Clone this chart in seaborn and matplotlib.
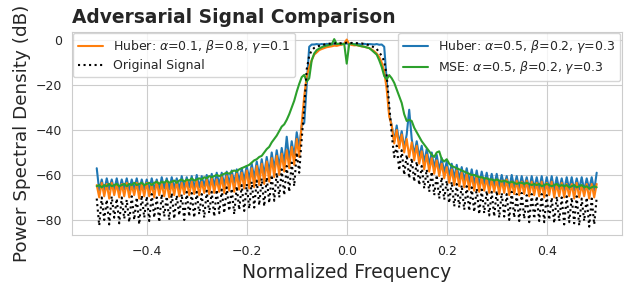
import numpy as np
import pandas as pd
import seaborn as sns
import matplotlib.pyplot as plt

# normalized frequency grid, -0.5 .. 0.5 in steps of 0.005
freq = np.round(np.linspace(-0.5, 0.5, 201), 3)

# PSD values (dB), rows of 10 points (0.05 each)
original = [
    -70.5, -82.5, -70, -80, -71, -82, -69.5, -79, -70.5, -81.5,
    -70, -79.5, -71, -81, -69.5, -80, -70, -82, -69, -79,
    -69.5, -80.5, -68.5, -79, -70, -81, -68.5, -78.5, -69.5, -80,
    -68, -79.5, -69, -78, -68.5, -80, -67.5, -78.5, -68, -79,
    -67.5, -77.5, -68.5, -79, -67, -77, -67.5, -78.5, -66.5, -77,
    -66.5, -77, -65.5, -76, -66, -77.5, -65, -75.5, -64.5, -76,
    -64, -75, -63, -74.5, -62.5, -73.5, -61.5, -74, -61, -72.5,
    -60, -71.5, -59, -70, -57.5, -69, -56, -67.5, -54.5, -65,
    -50, -59, -44, -30, -13, -7, -4.5, -3.5, -3, -2.6,
    -2.3, -2, -1.8, -1.6, -1.7, -1.5, -1.4, -1.6, -1.3, -1.4,
    -1.2, -1.4, -1.3, -1.5, -1.4, -1.6, -1.5, -1.8, -2, -2.3,
    -2.8, -3.3, -4, -5.5, -7, -9.5, -16, -29, -42, -52,
    -47, -58, -49, -60, -51, -61.5, -52.5, -63, -54, -64.5,
    -56, -66, -57.5, -67.5, -58.5, -69, -60, -70.5, -61, -71,
    -62.5, -72.5, -63, -74, -64, -74.5, -64.5, -75.5, -65, -76,
    -65.5, -76.5, -66, -77.5, -66.5, -77, -67, -78, -67.5, -78.5,
    -67, -79, -68, -78.5, -68.5, -80, -67.5, -79, -68.5, -80.5,
    -68, -79.5, -69, -81, -68.5, -79.5, -69.5, -80.5, -68.5, -81,
    -69, -80, -70, -81.5, -69.5, -80.5, -70, -82, -69.5, -81,
    -70, -81.5, -69.5, -82.5, -70.5, -80.5, -70, -83, -70.5, -82,
    -70,
]

huber_a01 = [
    -64.5, -70, -63.5, -69.5, -64, -70.5, -63.5, -69, -64, -70,
    -64, -69.5, -63.5, -70, -64.5, -69, -63.5, -70.5, -64, -69.5,
    -63.5, -69.5, -64, -70, -63, -69, -64, -69.5, -63.5, -70,
    -63.5, -69, -63, -69.5, -63.5, -68.5, -62.5, -69, -63, -68.5,
    -62.5, -69, -63, -68, -62, -68.5, -61.5, -68, -62, -67.5,
    -61, -68, -60.5, -67, -60, -67.5, -59.5, -66.5, -59, -66,
    -58, -66, -57, -65.5, -56, -64.5, -55, -64, -54, -63,
    -52.5, -61, -51.5, -60, -50.5, -58.5, -49, -57, -47.5, -55.5,
    -44, -52, -37, -25, -16, -12, -9, -6.5, -5.5, -4.5,
    -4, -3.6, -3.2, -3, -2.8, -2.5, -2.6, -2.3, -2.1, -1.6,
    0.2, -1.8, -2.2, -2.4, -2.3, -2.6, -2.8, -3, -3.3, -3.6,
    -4.2, -5, -6, -7.5, -10, -14, -22, -34, -38, -46,
    -40, -48, -42, -50, -44, -52, -45.5, -53.5, -47, -55,
    -49.5, -57.5, -51, -58.5, -52.5, -59.5, -53.5, -60.5, -55, -61.5,
    -56.5, -63.5, -57.5, -64.5, -58, -65, -59, -65.5, -59.5, -66.5,
    -60, -67, -60.5, -67.5, -61, -67, -61.5, -68, -62, -67.5,
    -62, -68.5, -62.5, -68, -62, -69, -63, -68.5, -62.5, -69,
    -63, -68.5, -62.5, -69.5, -63, -69, -63.5, -69.5, -63, -70,
    -63.5, -69, -63, -70, -64, -69.5, -63.5, -70, -64, -69.5,
    -64, -70.5, -63.5, -70, -64.5, -69.5, -64, -70.5, -64, -70,
    -64,
]

huber_a05 = [
    -57, -67, -62, -67.5, -61.5, -66.5, -62, -67, -61.5, -67,
    -62, -66.5, -61.5, -67, -62, -66.5, -61.5, -67, -62, -66.5,
    -62, -67, -61.5, -66.5, -62, -67, -61, -66, -61.5, -66.5,
    -61, -66, -61.5, -66.5, -60.5, -66, -61, -65.5, -60.5, -66,
    -60, -65.5, -60.5, -65, -60, -65.5, -59.5, -65, -59, -64.5,
    -59, -64.5, -58.5, -64, -58, -63.5, -57.5, -63, -57, -62.5,
    -56, -62, -55, -61.5, -54, -60.5, -53, -60, -52, -59,
    -50, -57.5, -49, -56.5, -48, -55, -43, -53.5, -45, -52,
    -41, -48, -38, -37, -20, -3, -2, -2, -1.8, -2,
    -1.8, -2, -1.7, -1.9, -1.6, -1.8, -1.7, -1.9, -1.6, -1.8,
    -1.5, -1.8, -1.6, -1.9, -1.7, -1.8, -2, -1.7, -1.9, -1.8,
    -1.9, -2, -1.8, -2.1, -2, -3, -18, -33, -38, -45,
    -38, -46, -40.5, -48, -42, -31, -44, -51, -45, -52,
    -47, -54.5, -48.5, -55.5, -50, -57, -51, -58, -52.5, -59,
    -54, -60.5, -55, -61.5, -55.5, -62, -56.5, -62.5, -57, -63.5,
    -57.5, -64, -58, -64.5, -58.5, -64, -59, -65, -59.5, -65,
    -59.5, -65.5, -60, -65, -60.5, -66, -60, -65.5, -60.5, -66,
    -60.5, -65.5, -61, -66.5, -60.5, -66, -61, -66.5, -60.5, -67,
    -61, -66.5, -60.5, -67, -61, -66.5, -61.5, -67, -61, -66.5,
    -61, -67, -61.5, -66.5, -61, -67, -61.5, -66.5, -61, -67,
    -59,
]

mse_a05 = [
    -65, -64.5, -65.5, -64.5, -65, -64, -65, -64.5, -64, -65,
    -64.5, -64, -65, -64, -64.5, -63.5, -64.5, -64, -63.5, -64.5,
    -64, -63.5, -64.5, -63.5, -63, -64, -63, -63.5, -62.5, -63.5,
    -63, -62.5, -63.5, -62.5, -62, -63, -62, -62.5, -61.5, -62.5,
    -62, -61.5, -62, -61, -61.5, -60.5, -61, -60.5, -60, -60.5,
    -60, -59.5, -59, -59.5, -58.5, -58, -58.5, -57.5, -57, -56.5,
    -56, -55.5, -54.5, -53.5, -53, -52, -51.5, -50, -48.5, -47.5,
    -45.5, -44, -42.5, -40.5, -38.5, -37.5, -35.5, -33, -30, -27,
    -23, -19.5, -16.5, -15.5, -18.5, -17, -9, -6, -4.5, -3.8,
    -3.2, -2.8, -2.5, -2.2, -2, 0.4, -1.8, -1.6, -1.9, -1.7,
    -10.5, -1.8, -1.6, -2, -2.2, -2.5, -2.8, -3, -3.3, -3.6,
    -4.5, -5.5, -6.5, -9, -12, -16, -17.5, -15.6, -17, -19,
    -22, -25, -28, -33, -36, -35.5, -36, -39, -41, -43,
    -45, -46.5, -48, -49.5, -51, -52, -50, -49.5, -53, -54,
    -53, -55, -56, -56.5, -57, -57.5, -58, -58.5, -59, -59.5,
    -60, -60, -60.5, -61, -61, -61.5, -61.5, -62, -62, -62.5,
    -62, -62.5, -63, -62.5, -63, -63.5, -63, -63.5, -64, -63.5,
    -63.5, -64, -63.5, -64, -64.5, -64, -64.5, -64, -65, -64.5,
    -64, -64.5, -65, -64.5, -64, -65, -64.5, -65, -64.5, -65.5,
    -65, -64.5, -65.5, -65, -64.5, -65.5, -65, -66, -65.5, -65,
    -65.5,
]

labels = {
    "huber_a01": r"Huber: $\alpha$=0.1, $\beta$=0.8, $\gamma$=0.1",
    "original": "Original Signal",
    "huber_a05": r"Huber: $\alpha$=0.5, $\beta$=0.2, $\gamma$=0.3",
    "mse_a05": r"MSE: $\alpha$=0.5, $\beta$=0.2, $\gamma$=0.3",
}

sns.set_style("whitegrid")
plt.rcParams['font.family'] = ['DejaVu Sans']

fig = plt.figure(figsize=(6.32, 2.85), dpi=100)
ax = fig.add_axes([0.1135, 0.1754, 0.8702, 0.7134])

sns.lineplot(x=freq, y=huber_a05, ax=ax, color="#1f77b4", lw=1.5)
sns.lineplot(x=freq, y=huber_a01, ax=ax, color="#ff7f0e", lw=1.5)
sns.lineplot(x=freq, y=mse_a05, ax=ax, color="#2ca02c", lw=1.5)
sns.lineplot(x=freq, y=original, ax=ax, color="black", lw=1.5, linestyle=":")
h_blue, h_orange, h_green, h_black = ax.get_lines()[:4]

ax.set_xlim(-0.55, 0.55)
ax.set_ylim(-86.7, 3.7)
ax.set_xticks([-0.4, -0.2, 0.0, 0.2, 0.4])
ax.set_yticks([0, -20, -40, -60, -80])
ax.tick_params(labelsize=9)

ax.set_title("Adversarial Signal Comparison", loc="left",
             fontweight="bold", fontsize=13.4)
ax.set_xlabel("Normalized Frequency", fontsize=13.5)
ax.set_ylabel("Power Spectral Density (dB)", fontsize=13.2, labelpad=3)

leg1 = ax.legend([h_orange, h_black], [labels["huber_a01"], labels["original"]],
                 loc="upper left", fontsize=9, borderaxespad=0.1,
                 labelspacing=0.35)
ax.add_artist(leg1)
ax.legend([h_blue, h_green], [labels["huber_a05"], labels["mse_a05"]],
          loc="upper right", fontsize=9, borderaxespad=0.1,
          labelspacing=0.35)

plt.savefig("out.png", dpi=100)
plt.close()
